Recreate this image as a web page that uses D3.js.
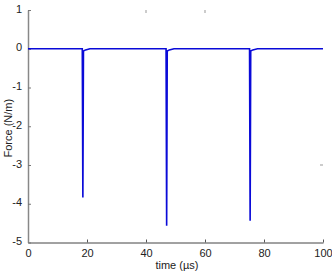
<!DOCTYPE html>
<html>
<head>
<meta charset="utf-8">
<script src="https://cdn.jsdelivr.net/npm/d3@7"></script>
<style>
  body { margin: 0; background: #fff; }
  svg text { font-family: "Liberation Sans", Arial, sans-serif; font-size: 11px; fill: #222; }
</style>
</head>
<body>
<div id="chart"></div>
<script>
// data
var time = [0, 18.4, 18.6, 18.8, 19.5, 21, 46.8, 47.0, 47.2, 47.9, 49.5, 75.1, 75.3, 75.5, 76.2, 77.8, 100];
var force = [0, 0, -3.84, -0.06, -0.03, 0, 0, -4.57, -0.06, -0.03, 0, 0, -4.44, -0.06, -0.03, 0, 0];
var xTicks = [0, 20, 40, 60, 80, 100];
var yTicks = [1, 0, -1, -2, -3, -4, -5];

var svgWidth = 332;
var svgHeight = 273;
var margin = { top: 10, right: 9, bottom: 30.5, left: 28 };
var width = svgWidth - margin.left - margin.right;
var height = svgHeight - margin.top - margin.bottom;

var svg = d3.select("#chart")
  .append("svg")
  .attr("width", svgWidth)
  .attr("height", svgHeight);

var chartGroup = svg.append("g")
  .attr("transform", `translate(${margin.left}, ${margin.top})`);

var xScale = d3.scaleLinear().domain([0, 100]).range([0, width]);
var yScale = d3.scaleLinear().domain([-5, 1]).range([height, 0]);

// axes, ticks pointing inward like matlab
var xAxis = d3.axisBottom(xScale).tickValues(xTicks).tickFormat(d => String(d))
  .tickSizeInner(-3).tickSizeOuter(0).tickPadding(7);
var yAxis = d3.axisLeft(yScale).tickValues(yTicks).tickFormat(d => String(d))
  .tickSizeInner(-3).tickSizeOuter(0).tickPadding(6);

var gx = chartGroup.append("g")
  .attr("transform", `translate(0,${height})`)
  .call(xAxis);
gx.select(".domain").attr("stroke", "#444");
gx.selectAll(".tick line").attr("stroke", "#555");
gx.selectAll(".tick text").attr("font-size", null).attr("font-family", null).attr("fill", null);

var gy = chartGroup.append("g").call(yAxis);
gy.select(".domain").attr("stroke", "#888").attr("stroke-width", 1.5);
gy.selectAll(".tick line").attr("stroke", "#777");
gy.selectAll(".tick text").attr("font-size", null).attr("font-family", null).attr("fill", null)
  .attr("dy", "0.2em");

// leftover tick fragments on the top and right edges
chartGroup.selectAll(".topTick")
  .data([40, 60])
  .enter()
  .append("line")
  .attr("x1", d => xScale(d)).attr("x2", d => xScale(d))
  .attr("y1", 0).attr("y2", 3)
  .attr("stroke", "#999");
chartGroup.append("line")
  .attr("x1", width - 3).attr("x2", width)
  .attr("y1", yScale(-3)).attr("y2", yScale(-3))
  .attr("stroke", "#999");

// force trace
var line = d3.line()
  .x((d, i) => xScale(time[i]))
  .y(d => yScale(d));

chartGroup.append("path")
  .datum(force)
  .attr("fill", "none")
  .attr("stroke", "#0a0ad8")
  .attr("stroke-width", 1.6)
  .attr("d", line);

// axis labels
svg.append("text")
  .attr("transform", `translate(12, ${margin.top + yScale(-2.05)}) rotate(-90)`)
  .attr("text-anchor", "middle")
  .text("Force (N/m)");

chartGroup.append("text")
  .attr("x", xScale(50.5))
  .attr("y", height + 26)
  .attr("text-anchor", "middle")
  .text("time (\u00b5s)");
</script>
</body>
</html>
